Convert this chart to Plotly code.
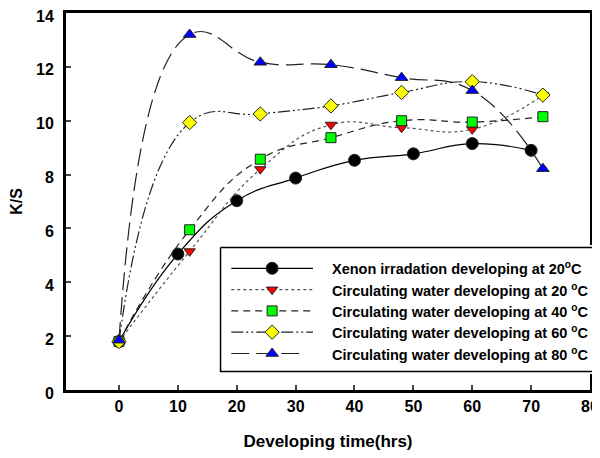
import plotly.graph_objects as go

hours_xenon = [0, 10, 20, 30, 40, 50, 60, 70]
ks_xenon = [1.8, 5.05, 7.03, 7.87, 8.53, 8.77, 9.15, 8.9]

hours_water = [0, 12, 24, 36, 48, 60, 72]
ks_20 = [1.8, 5.15, 8.2, 9.85, 9.74, 9.68, 10.95]
ks_40 = [1.8, 5.95, 8.57, 9.37, 10.0, 9.95, 10.15]
ks_60 = [1.8, 9.93, 10.25, 10.55, 11.05, 11.45, 10.95]
ks_80 = [1.85, 13.2, 12.17, 12.08, 11.6, 11.12, 8.22]

names = [
    "Xenon irradation developing at 20<sup>o</sup>C",
    "Circulating water developing at 20 <sup>o</sup>C",
    "Circulating water developing at 40 <sup>o</sup>C",
    "Circulating water developing at 60 <sup>o</sup>C",
    "Circulating water developing at 80 <sup>o</sup>C",
]

x_ticks = [0, 10, 20, 30, 40, 50, 60, 70, 80]
y_ticks = [0, 2, 4, 6, 8, 10, 12, 14]

series = [
    (hours_xenon, ks_xenon, "circle", "black", 12, "solid", "black"),
    (hours_water, ks_20, "triangle-down", "red", 10, "dot", "#555"),
    (hours_water, ks_40, "square", "#00ff00", 10, "7px,5px", "#222"),
    (hours_water, ks_60, "diamond", "yellow", 11, "12px,3px,2px,3px,2px,3px", "#222"),
    (hours_water, ks_80, "triangle-up", "blue", 11, "18px,7px", "#222"),
]

# the page body adds an 8px offset; work in screen pixels and convert
OFF = 8
W, H = 600 - OFF, 458 - OFF
PLOT_L, PLOT_R, PLOT_T, PLOT_B = 66 - OFF, 590 - OFF, 13 - OFF, 390 - OFF
ML, MR, MT, MB = PLOT_L, 0, PLOT_T, H - PLOT_B
PW = W - ML - MR
PH = H - MT - MB

font_family = "Liberation Sans, Arial, sans-serif"

fig = go.Figure()
for xs, ys, sym, col, sz, dash, lc in series:
    fig.add_trace(go.Scatter(
        x=xs, y=ys, mode="lines+markers", showlegend=False,
        line=dict(shape="spline", smoothing=1.3, color=lc, width=1.2, dash=dash),
        marker=dict(symbol=sym, color=col, size=sz, line=dict(color="#222", width=1)),
        xaxis="x", yaxis="y",
    ))

# ---- custom legend drawn on a secondary pixel-scaled subplot (screen px) ----
LX0, LX1 = 218, 600
LY_TOP, LY_BOT = 245, 374
box = dict(x0=220.5, x1=606, y0=247.5, y1=371.5)
row_y = [268.3, 289.6, 310.9, 332.2, 353.5]
sample_x0, sample_x1 = 231, 311
marker_x = 271
text_x = 328

fig.add_trace(go.Scatter(
    x=[box["x0"], box["x1"], box["x1"], box["x0"], box["x0"]],
    y=[box["y0"], box["y0"], box["y1"], box["y1"], box["y0"]],
    mode="lines", fill="toself", fillcolor="white",
    line=dict(color="black", width=1.5), showlegend=False,
    xaxis="x2", yaxis="y2", hoverinfo="skip",
))
for i, (xs, ys, sym, col, sz, dash, lc) in enumerate(series):
    x_end = sample_x1 - 8 if i == 4 else sample_x1
    fig.add_trace(go.Scatter(
        x=[sample_x0, marker_x, x_end], y=[row_y[i]] * 3, mode="lines",
        line=dict(color=lc, width=1.2, dash=dash), showlegend=False,
        xaxis="x2", yaxis="y2", hoverinfo="skip",
    ))
    fig.add_trace(go.Scatter(
        x=[marker_x], y=[row_y[i]], mode="markers",
        marker=dict(symbol=sym, color=col, size=sz, line=dict(color="#222", width=1)),
        showlegend=False, xaxis="x2", yaxis="y2", hoverinfo="skip", cliponaxis=False,
    ))
    fig.add_annotation(
        x=text_x, y=row_y[i], xref="x2", yref="y2", text=names[i],
        showarrow=False, xanchor="left", yanchor="middle",
        font=dict(size=14.5, family=font_family, weight="bold", color="black"),
    )

fig.update_layout(
    width=W, height=H,
    margin=dict(l=ML, r=MR, t=MT, b=MB, autoexpand=False),
    paper_bgcolor="white", plot_bgcolor="white",
    font=dict(family=font_family, color="black"),
    showlegend=False,
    xaxis=dict(
        domain=[0, (PLOT_R - ML) / PW],
        range=[-9, 80], tickvals=x_ticks, ticks="inside", ticklen=5, tickwidth=1.5,
        showline=True, linewidth=3, linecolor="black", mirror=True,
        showgrid=False, zeroline=False, automargin=False,
        ticklabeloverflow="allow",
        tickfont=dict(size=16, weight="bold"),
        title=dict(text="Developing time(hrs)", font=dict(size=17, weight="bold"), standoff=21),
    ),
    yaxis=dict(
        range=[0, 14], tickvals=y_ticks, ticks="inside", ticklen=5, tickwidth=1.5,
        showline=True, linewidth=3, linecolor="black", mirror=True,
        showgrid=False, zeroline=False, automargin=False,
        ticklabeloverflow="allow",
        tickfont=dict(size=16, weight="bold"),
        ticklabelstandoff=6, ticklabelshift=3,
        title=dict(text="K/S", font=dict(size=16, weight="bold"), standoff=10),
    ),
    xaxis2=dict(
        domain=[(LX0 - OFF - ML) / PW, 1], range=[LX0, LX1 - OFF], anchor="y2",
        visible=False, fixedrange=True,
    ),
    yaxis2=dict(
        domain=[(PLOT_B - (LY_BOT - OFF)) / PH, (PLOT_B - (LY_TOP - OFF)) / PH],
        range=[LY_BOT, LY_TOP], anchor="x2", visible=False, fixedrange=True,
    ),
)

fig.write_html("out.html")
